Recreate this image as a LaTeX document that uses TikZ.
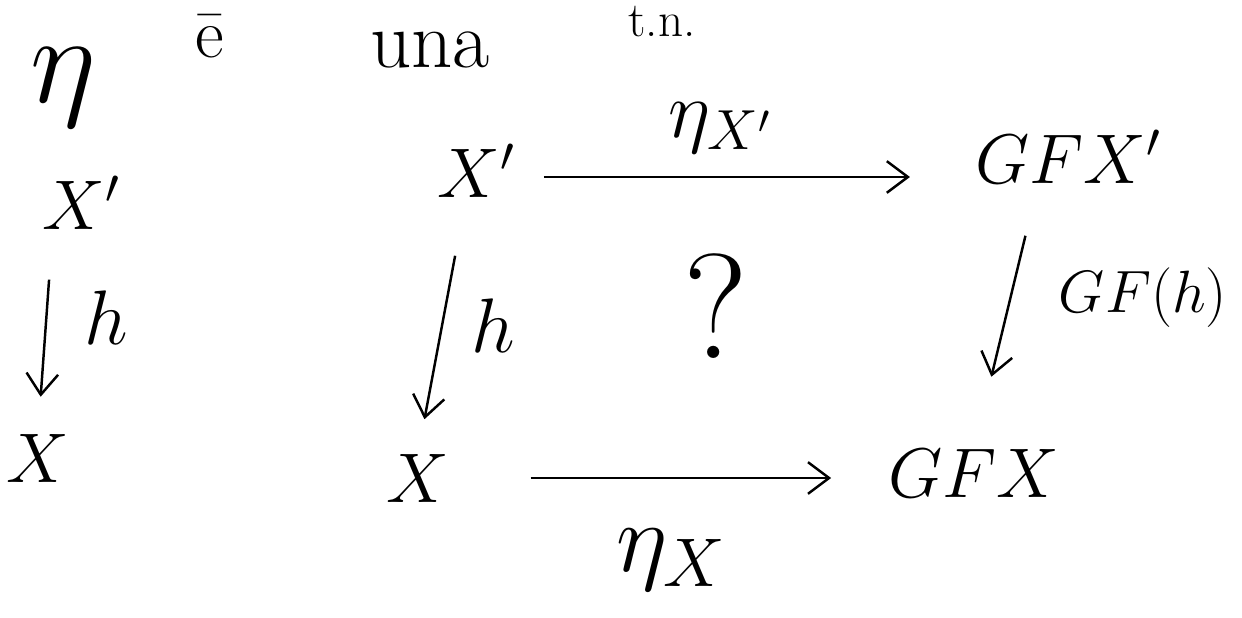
\RequirePackage{fix-cm}
\documentclass[tikz,border=0pt]{standalone}
\usepackage{amsmath}
\usetikzlibrary{arrows.meta}

\tikzset{
  obj/.style={inner sep=0pt, font=\fontsize{40}{44}\selectfont},
  lbl/.style={inner sep=0pt, font=\fontsize{44}{48}\selectfont},
  arr/.style={line width=1.4pt, -{Straight Barb[length=12pt,width=18pt]}},
}

\begin{document}
\begin{tikzpicture}[x=0.02cm, y=-0.02cm]
  \useasboundingbox (0,0) rectangle (1242,618);

  % Heading
  \node[inner sep=0pt, font=\fontsize{72}{76}\selectfont] (heta) at (63,88) {$\eta$};
  \node[inner sep=0pt, font=\fontsize{40}{44}\selectfont] (ee) at (210,36) {\=e};
  \node[inner sep=0pt, font=\fontsize{46}{50}\selectfont] (una) at (430,50) {una};
  \node[inner sep=0pt, font=\fontsize{28}{32}\selectfont] (tn) at (662,22) {t.n.};

  % Left: the map h alone
  \node[obj] (lXp) at (81,203) {$X'$};
  \node[obj] (lX) at (38,458) {$X$};
  \draw[arr, shorten <=1cm, shorten >=0.74cm] ([xshift=6pt]lXp.south west) -- (lX.north);
  \node[lbl] (lh) at (106,318) {$h$};

  % The square
  \node[obj] (mXp) at (476,171) {$X'$};
  \node[obj] (GFXp) at (1068,157) {$GFX'$};
  \node[obj] (mX) at (418,478) {$X$};
  \node[obj] (GFX) at (974,473) {$GFX$};

  \draw[arr, shorten <=0.58cm, shorten >=1.3cm] ([yshift=-3.4pt]mXp.east) -- ([yshift=-3.4pt]mXp.east -| GFXp.west);
  \draw[arr, shorten <=1.62cm, shorten >=1.14cm] (mX.east) -- (mX.east -| GFX.west);
  \draw[arr, shorten <=1.18cm, shorten >=0.7cm] ([xshift=-0.2cm]mXp.south) -- (mX.north);
  \draw[arr, shorten <=1.07cm, shorten >=1.48cm] ([xshift=-0.6cm]GFXp.south) -- (GFX.north);

  % Labels
  \node[inner sep=0pt, font=\fontsize{46}{50}\selectfont] (etaXp) at (720,128) {$\eta_{X'}$};
  \node[inner sep=0pt, font=\fontsize{56}{60}\selectfont] (etaX) at (671,560) {$\eta_{X}$};
  \node[lbl] (mh) at (493,326) {$h$};
  \node[inner sep=0pt, font=\fontsize{34}{38}\selectfont] (GFh) at (1143,298) {$GF(h)$};
  \node[inner sep=0pt, font=\fontsize{85}{90}\selectfont] (q) at (716,306) {?};
\end{tikzpicture}
\end{document}
